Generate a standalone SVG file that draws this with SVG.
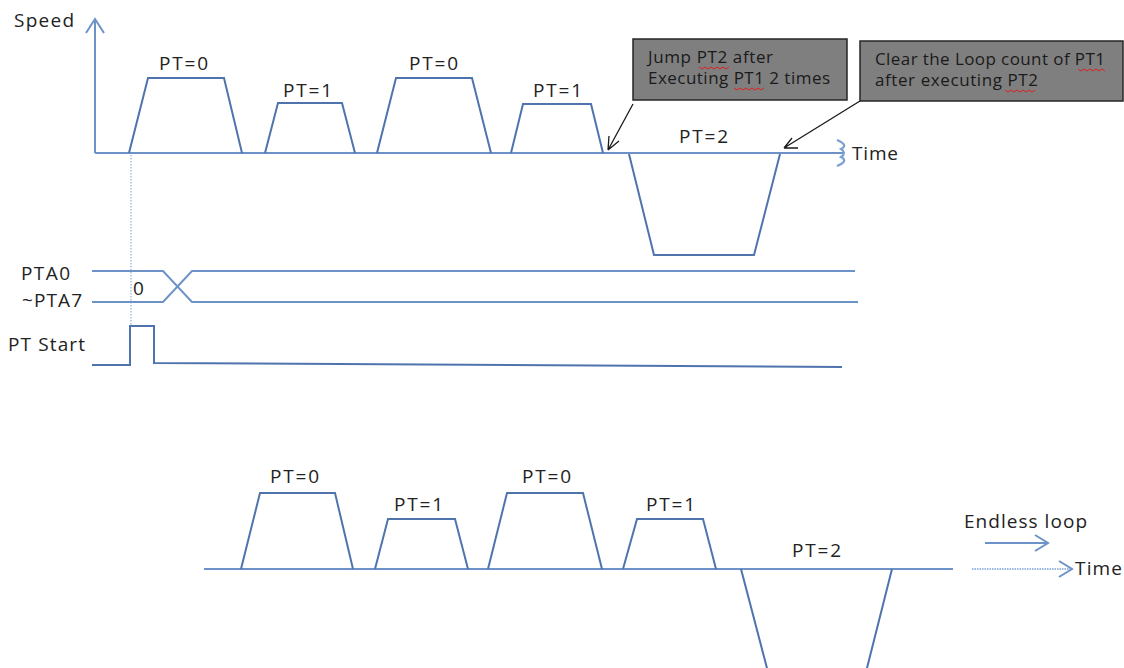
<svg xmlns="http://www.w3.org/2000/svg" width="1124" height="668" viewBox="0 0 1124 668">
<defs>
<style>
.ln{fill:none;stroke:#4f74ad;stroke-width:2;stroke-linejoin:miter}
.lt{fill:none;stroke:#6d92c8;stroke-width:2}
.tx{font-family:"Open Sans","Liberation Sans",Arial,sans-serif;font-size:19px;fill:#222}
.bt{font-family:"Open Sans","Liberation Sans",Arial,sans-serif;font-size:17px;fill:#1a1a1a}
.box{fill:#7f7f7f;stroke:#262626;stroke-width:1.5}
.ar{fill:none;stroke:#1a1a1a;stroke-width:1.3}
.sq{fill:none;stroke:#e02020;stroke-width:1}
</style>
</defs>
<rect width="1124" height="668" fill="#fff"/>

<g id="axes">
<path class="lt" d="M95,153 V20 M86,33 L95,19 L104,33"/>
<path class="lt" d="M95,153 H844"/>
<path d="M837,140 Q849,145 841,149 Q847,153 841,157 Q849,161 837,166" fill="none" stroke="#7aa0d6" stroke-width="2.2"/>
<text class="tx" x="14" y="27" textLength="60">Speed</text>
<text class="tx" x="852" y="160" textLength="46">Time</text>
</g>

<g id="top-profile">
<polyline class="ln" points="129,153 148,78 224,78 242,153"/>
<polyline class="ln" points="265,153 278,103 342,103 355,153"/>
<polyline class="ln" points="377,153 396,78 472,78 491,153"/>
<polyline class="ln" points="511,153 523,104 591,104 603,153"/>
<polyline class="ln" points="629,154 654,255 754,255 780,154"/>
<text class="tx" x="159" y="70" textLength="49">PT=0</text>
<text class="tx" x="283" y="97" textLength="49">PT=1</text>
<text class="tx" x="409" y="70" textLength="49">PT=0</text>
<text class="tx" x="533" y="97" textLength="49">PT=1</text>
<text class="tx" x="679" y="143" textLength="49">PT=2</text>
</g>

<g id="note1">
<rect class="box" x="633" y="39" width="214" height="61"/>
<text class="bt" x="648" y="63" textLength="125">Jump PT2 after</text>
<text class="bt" x="648" y="84" textLength="182">Executing PT1 2 times</text>
<path class="sq" d="M699,67 l3,2 l3,-2 l3,2 l3,-2 l3,2 l3,-2 l3,2 l3,-2 l3,2 l3,-2"/>
<path class="sq" d="M734,88 l3,2 l3,-2 l3,2 l3,-2 l3,2 l3,-2 l3,2 l3,-2 l3,2 l3,-2"/>
</g>

<g id="note2">
<rect class="box" x="860" y="41" width="263" height="60"/>
<text class="bt" x="875" y="65" textLength="230">Clear the Loop count of PT1</text>
<text class="bt" x="875" y="86" textLength="163">after executing PT2</text>
<path class="sq" d="M1078,69 l3,2 l3,-2 l3,2 l3,-2 l3,2 l3,-2 l3,2 l3,-2 l3,2"/>
<path class="sq" d="M1005,90 l3,2 l3,-2 l3,2 l3,-2 l3,2 l3,-2 l3,2 l3,-2 l3,2 l3,-2"/>
</g>

<g id="connectors">
<path class="ar" d="M633,104 L608,150 M608,150 L609,136 M608,150 L619,141"/>
<path class="ar" d="M860,101 L784,148 M784,148 L792,138 M784,148 L798,148"/>
</g>

<g id="signals">
<line x1="131" y1="155" x2="131" y2="326" stroke="#7aa0d6" stroke-width="1" stroke-dasharray="1.5,1.5"/>
<polyline class="lt" points="92,271 163,271 192,302 858,302"/>
<polyline class="lt" points="92,302 163,302 192,271 855,271"/>
<polyline class="ln" points="92,365 130,365 130,326 154,326 154,363 842,367"/>
<text class="tx" x="21" y="280" textLength="49">PTA0</text>
<text class="tx" x="22" y="307" textLength="60">~PTA7</text>
<text class="tx" x="133" y="295">0</text>
<text class="tx" x="8" y="351" textLength="77">PT Start</text>
</g>

<g id="bottom-profile">
<line class="lt" x1="204" y1="569" x2="953" y2="569"/>
<polyline class="ln" points="241,569 260,493 335,493 353,569"/>
<polyline class="ln" points="375,569 388,519 455,519 468,569"/>
<polyline class="ln" points="488,569 507,493 583,493 602,569"/>
<polyline class="ln" points="623,569 637,519 703,519 716,569"/>
<polyline class="ln" points="741,569 768,672 866,672 892,569"/>
<text class="tx" x="270" y="483" textLength="49">PT=0</text>
<text class="tx" x="394" y="511" textLength="49">PT=1</text>
<text class="tx" x="522" y="483" textLength="49">PT=0</text>
<text class="tx" x="646" y="511" textLength="49">PT=1</text>
<text class="tx" x="792" y="557" textLength="49">PT=2</text>
<line x1="972" y1="569" x2="1071" y2="569" stroke="#7aa0d6" stroke-width="1.5" stroke-dasharray="1.5,1"/>
<path class="lt" d="M1059,561 L1072,569 L1059,577"/>
<text class="tx" x="1075" y="575" textLength="47">Time</text>
<path class="lt" d="M985,543 H1047 M1035,535 L1048,543 L1035,551"/>
<text class="tx" x="964" y="528" textLength="123">Endless loop</text>
</g>
</svg>
